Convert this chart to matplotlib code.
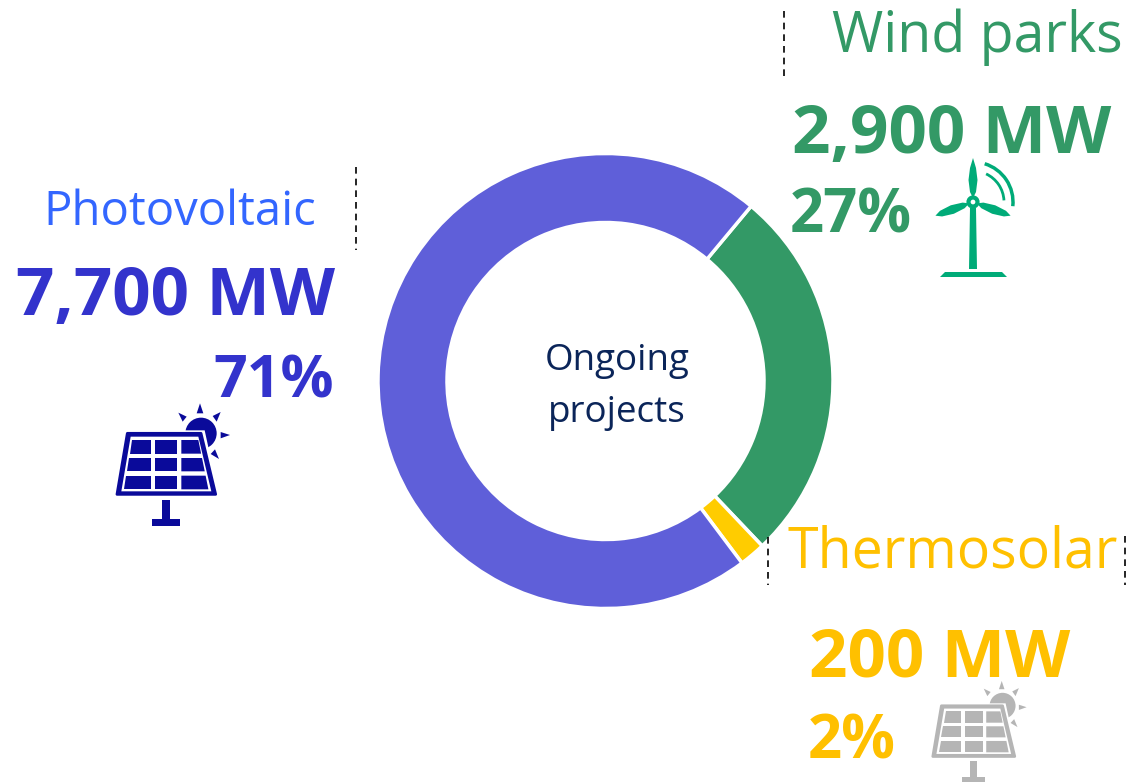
import matplotlib
matplotlib.use("Agg")
import matplotlib.pyplot as plt
from matplotlib.patches import Polygon, Circle, Arc
from matplotlib.transforms import Affine2D

W, H = 1130, 783

# data
categories = ["Wind parks", "Thermosolar", "Photovoltaic"]
megawatts = [2900, 200, 7700]
mw_labels = ["2,900 MW", "200 MW", "7,700 MW"]
pct_labels = ["27%", "2%", "71%"]
wedge_colors = ["#339966", "#FFCC00", "#5F5FD9"]

plt.rcParams["font.family"] = ["Open Sans", "DejaVu Sans"]

fig = plt.figure(figsize=(W / 100, H / 100), dpi=100)

# donut, positioned in pixels
cx, cy, r = 605.5, 381, 227.5
ax = fig.add_axes([(cx - r) / W, 1 - (cy + r) / H, 2 * r / W, 2 * r / H])
ax.pie(megawatts, colors=wedge_colors, startangle=50.2, counterclock=False,
       radius=1, wedgeprops=dict(width=69 / r, edgecolor="white", linewidth=2.5))
ax.set_xlim(-1, 1)
ax.set_ylim(-1, 1)

# overlay in image pixels for text and icons
ov = fig.add_axes([0, 0, 1, 1])
ov.set_xlim(0, W)
ov.set_ylim(H, 0)
ov.axis("off")
ov.patch.set_alpha(0)

green, blue, light_blue, yellow = "#339966", "#3333CC", "#3366FF", "#FFC000"


def label(x, y, s, color, size, weight="normal", ha="center", spacing=1.2):
    ov.text(x, y, s, color=color, fontsize=size, fontweight=weight, ha=ha, va="center",
            linespacing=spacing)


label(977, 37, categories[0], green, 40)
label(952, 136, mw_labels[0], green, 48.5, "bold")
label(851, 217, pct_labels[0], green, 43, "bold")

label(180, 212, categories[2], light_blue, 34)
label(176, 297, mw_labels[2], blue, 48.5, "bold")
label(274, 382, pct_labels[2], blue, 42.5, "bold")

label(953, 553, categories[1], yellow, 40)
label(940, 659, mw_labels[1], yellow, 48.5, "bold")
label(852, 743, pct_labels[1], yellow, 43, "bold")

label(617, 387, "Ongoing\nprojects", "#0B2559", 26.5, spacing=1.6)

# dashed leader lines
for x, y0, y1 in [(356, 167, 250), (784, 11, 81), (768, 537, 585), (1125, 536, 585)]:
    ov.plot([x, x], [y0, y1], color="black", lw=1.2, ls=(0, (4, 3)))


def solar_icon(color, x0, y0, s):
    # shapes in zoom coordinates of the blue icon, origin at panel lower left
    def P(x, y):
        return (x0 + s * (x - 48) / 3, y0 + s * (y - 315) / 3)

    ov.add_patch(Circle(P(303, 130), 47 * s / 3, color=color, lw=0, zorder=3))
    rays = [[(290, 70), (310, 70), (300, 40)],
            [(338, 78), (350, 95), (362, 66)],
            [(362, 126), (362, 145), (390, 135)],
            [(345, 178), (332, 192), (357, 207)],
            [(248, 95), (260, 80), (235, 68)]]
    for ray in rays:
        ov.add_patch(Polygon([P(*p) for p in ray], color=color, lw=0, zorder=3))
    ov.add_patch(Polygon([P(74, 121), P(314, 121), P(358, 322), P(40, 322)],
                         color="white", lw=0, zorder=4))
    ov.add_patch(Polygon([P(82, 130), P(303, 130), P(347, 313), P(51, 313)],
                         facecolor=color, edgecolor=color, lw=2, joinstyle="round", zorder=4))
    ov.add_patch(Polygon([P(92, 140), P(295, 140), P(334, 304), P(64, 304)],
                         color="white", lw=0, zorder=5))

    def left(y):
        return 97 - 25 * (y - 150) / 147

    def right(y):
        return 295 + 30 * (y - 150) / 147

    for ya, yb in [(150, 191), (204, 244), (257, 298)]:
        cells = [[(left(ya), ya), (154, ya), (154, yb), (left(yb), yb)],
                 [(166, ya), (231, ya), (231, yb), (166, yb)],
                 [(244, ya), (right(ya), ya), (right(yb), yb), (244, yb)]]
        for cell in cells:
            ov.add_patch(Polygon([P(*p) for p in cell], color=color, lw=0, zorder=6))
    ov.add_patch(Polygon([P(185, 330), P(211, 330), P(211, 388), P(185, 388)], color=color, lw=0))
    ov.add_patch(Polygon([P(156, 388), P(240, 388), P(240, 407), P(156, 407)], color=color, lw=0))


solar_icon("#0A0A9A", 116, 495, 1.0)
solar_icon("#B5B5B5", 932, 757, 0.83)

# wind turbine icon
teal = "#00AB78"
hx, hy = 973, 202
for angle, length in [(0, 44), (110, 40), (250, 40)]:
    blade = Polygon([(hx, hy - 4), (hx - 3, hy - 10), (hx - 4.5, hy - 22), (hx - 3, hy - 34),
                     (hx, hy - length), (hx + 3, hy - 34), (hx + 4.5, hy - 22), (hx + 3, hy - 10)],
                    color=teal, lw=0)
    blade.set_transform(Affine2D().rotate_deg_around(hx, hy, angle) + ov.transData)
    ov.add_patch(blade)
ov.add_patch(Circle((hx, hy), 4.5, facecolor="white", edgecolor=teal, lw=3, zorder=3))
ov.add_patch(Polygon([(hx - 3, hy + 6), (hx + 3, hy + 6), (hx + 4, 269), (hx - 4, 269)], color=teal, lw=0))
ov.add_patch(Polygon([(945, 272), (1002, 272), (1007, 277), (940, 277)], color=teal, lw=0))
ov.add_patch(Arc((hx, hy), 80, 80, theta1=-73, theta2=6, color=teal, lw=2.5))
ov.add_patch(Arc((hx, hy), 62, 62, theta1=-65, theta2=-3, color=teal, lw=2))

fig.savefig("out.png", dpi=100)
